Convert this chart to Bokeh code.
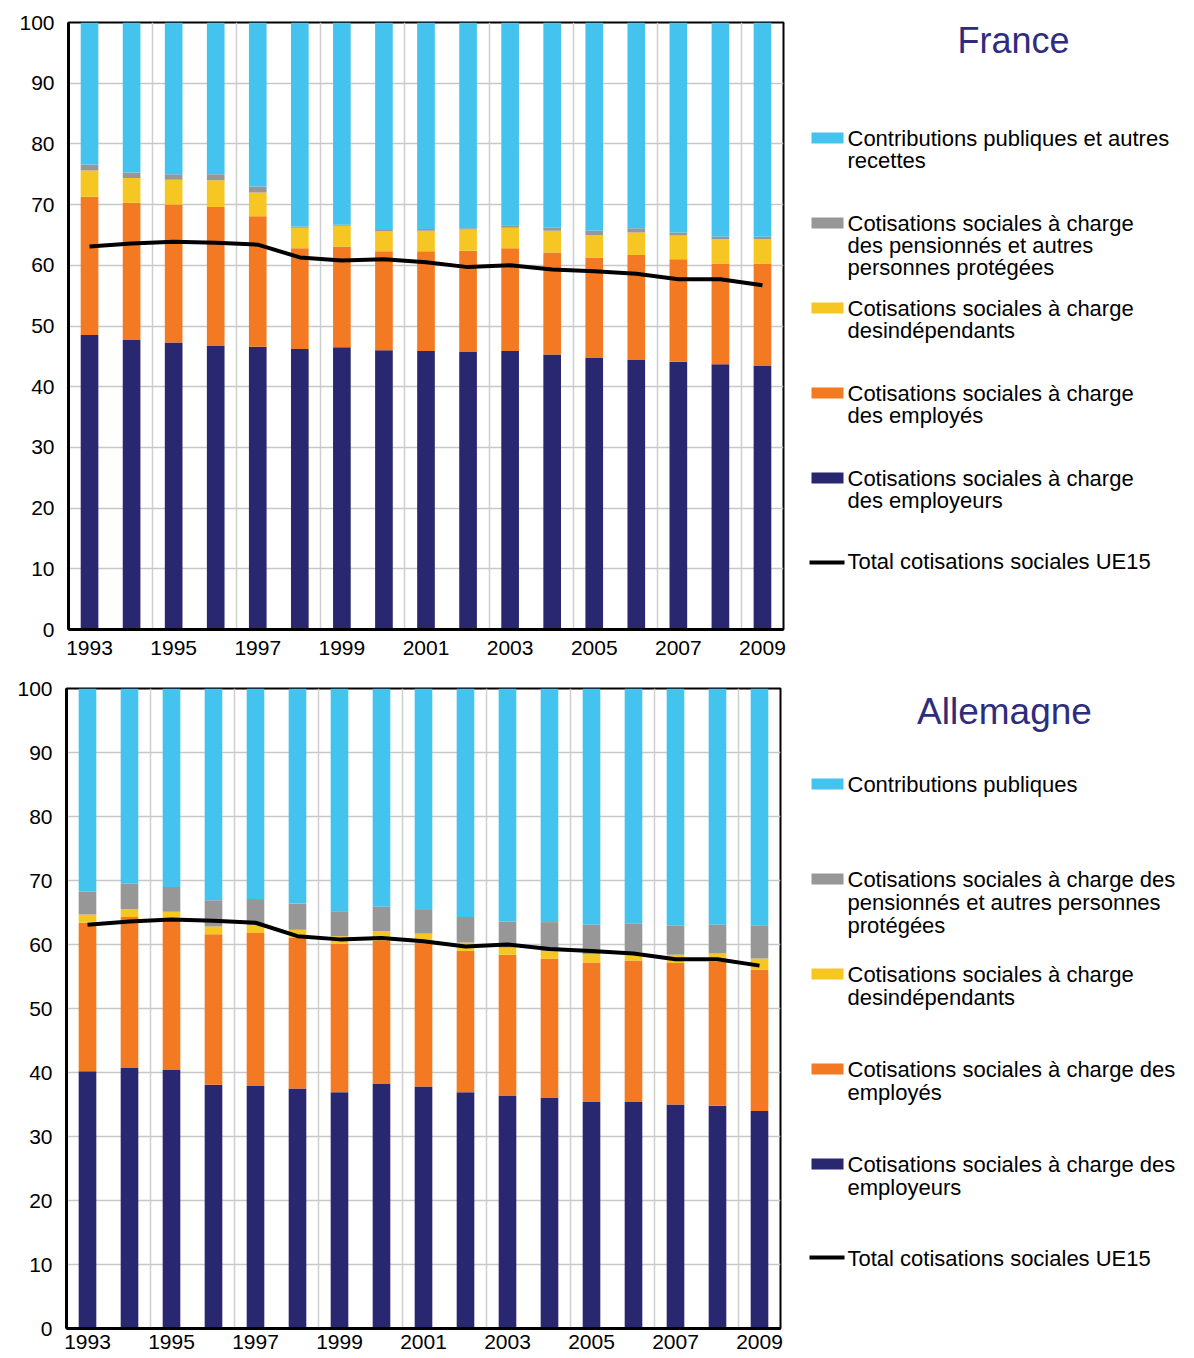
from bokeh.plotting import figure
from bokeh.layouts import column, row
from bokeh.models import ColumnDataSource, Range1d, FixedTicker
from bokeh.core.properties import value
from bokeh.embed import file_html
from bokeh.resources import INLINE

# ---------------- data ----------------
years = [1993, 1994, 1995, 1996, 1997, 1998, 1999, 2000, 2001,
         2002, 2003, 2004, 2005, 2006, 2007, 2008, 2009]
year_ticks = [1993, 1995, 1997, 1999, 2001, 2003, 2005, 2007, 2009]
year_grid = [1994.5, 1996.5, 1998.5, 2000.5, 2002.5, 2004.5, 2006.5, 2008.5]
y_ticks = [0, 10, 20, 30, 40, 50, 60, 70, 80, 90, 100]

# UE15 total social contributions (same line on both panels)
ue15_total = [63.1, 63.6, 63.9, 63.7, 63.4, 61.3, 60.8, 61.0, 60.5,
              59.7, 60.0, 59.3, 59.0, 58.6, 57.7, 57.7, 56.7]

# France
fr_employeurs = [48.5, 47.7, 47.3, 46.8, 46.6, 46.2, 46.5, 46.0, 45.9,
                 45.7, 45.9, 45.3, 44.8, 44.4, 44.1, 43.7, 43.5]
fr_employes = [22.8, 22.6, 22.7, 22.8, 21.5, 16.6, 16.6, 16.3, 16.4,
               16.7, 16.9, 16.8, 16.5, 17.3, 16.9, 16.6, 16.8]
fr_independants = [4.3, 4.1, 4.1, 4.4, 3.9, 3.4, 3.4, 3.3, 3.4,
                   3.5, 3.4, 3.6, 3.7, 3.7, 3.9, 4.0, 4.0]
fr_pensionnes = [1.0, 0.9, 0.9, 1.0, 1.0, 0.2, 0.2, 0.2, 0.3,
                 0.2, 0.4, 0.5, 0.7, 0.7, 0.5, 0.4, 0.4]
fr_publiques = [23.4, 24.7, 25.0, 25.0, 27.0, 33.6, 33.3, 34.2, 34.0,
                33.9, 33.4, 33.8, 34.3, 33.9, 34.6, 35.3, 35.3]

# Allemagne
de_employeurs = [40.2, 40.7, 40.4, 38.1, 37.9, 37.5, 36.9, 38.3, 37.8,
                 36.9, 36.4, 36.0, 35.4, 35.4, 35.0, 34.8, 34.0]
de_employes = [23.2, 23.6, 23.5, 23.5, 23.9, 23.6, 23.2, 22.3, 22.5,
               22.1, 22.0, 21.8, 21.8, 22.1, 22.1, 22.5, 22.1]
de_independants = [1.3, 1.2, 1.2, 1.2, 1.2, 1.2, 1.2, 1.5, 1.4,
                   1.3, 1.1, 1.2, 1.3, 1.3, 1.3, 1.3, 1.7]
de_pensionnes = [3.6, 4.0, 3.9, 4.1, 4.1, 4.1, 3.9, 3.8, 3.7,
                 4.0, 4.1, 4.5, 4.6, 4.5, 4.6, 4.5, 5.2]
de_publiques = [31.7, 30.5, 31.0, 33.1, 32.9, 33.6, 34.8, 34.1, 34.6,
                35.7, 36.4, 36.5, 36.9, 36.7, 37.0, 36.9, 37.0]

fr_legend_labels = [
    ["Contributions publiques et autres", "recettes"],
    ["Cotisations sociales à charge", "des pensionnés et autres", "personnes protégées"],
    ["Cotisations sociales à charge", "desindépendants"],
    ["Cotisations sociales à charge", "des employés"],
    ["Cotisations sociales à charge", "des employeurs"],
]
de_legend_labels = [
    ["Contributions publiques"],
    ["Cotisations sociales à charge des", "pensionnés et autres personnes", "protégées"],
    ["Cotisations sociales à charge", "desindépendants"],
    ["Cotisations sociales à charge des", "employés"],
    ["Cotisations sociales à charge des", "employeurs"],
]
line_label = "Total cotisations sociales UE15"

# ---------------- style ----------------
C_PUB = "#45C3EF"
C_PEN = "#979797"
C_IND = "#F6C723"
C_EMP = "#F37A22"
C_EMPR = "#28276F"
C_TITLE = "#2E2D7D"
stack_colors = [C_EMPR, C_EMP, C_IND, C_PEN, C_PUB]
legend_colors = [C_PUB, C_PEN, C_IND, C_EMP, C_EMPR]
FONT = "Liberation Sans"


def bar_panel(employeurs, employes, independants, pensionnes, publiques,
              width, height, bl, br, bt, bb, x_standoff):
    src = ColumnDataSource(dict(year=years, a=employeurs, b=employes,
                                c=independants, d=pensionnes, e=publiques))
    p = figure(width=width, height=height, output_backend="svg",
               toolbar_location=None, x_range=Range1d(1992.5, 2009.5),
               y_range=Range1d(0, 100), min_border_left=bl,
               min_border_right=br, min_border_top=bt, min_border_bottom=bb)
    p.vbar_stack(["a", "b", "c", "d", "e"], x="year", width=0.42,
                 color=stack_colors, line_color=None, source=src)
    p.line(years, ue15_total, line_width=4, color="black")
    p.xaxis.ticker = FixedTicker(ticks=year_ticks)
    p.yaxis.ticker = FixedTicker(ticks=y_ticks)
    p.xgrid.ticker = FixedTicker(ticks=year_grid)
    p.xgrid.grid_line_color = "#CFCFCF"
    p.xgrid.grid_line_width = 1.5
    p.ygrid.grid_line_color = "#C8C8C8"
    p.ygrid.grid_line_width = 1.5
    p.outline_line_color = "black"
    p.outline_line_width = 2
    for ax in (p.xaxis, p.yaxis):
        ax.axis_line_color = "black"
        ax.axis_line_width = 3
        ax.major_tick_line_color = None
        ax.minor_tick_line_color = None
        ax.major_tick_out = 0
        ax.major_tick_in = 0
        ax.major_label_text_font = FONT
        ax.major_label_text_font_size = "21px"
        ax.major_label_text_color = "black"
    p.yaxis.major_label_standoff = 14
    p.xaxis.major_label_standoff = x_standoff
    p.background_fill_color = "white"
    p.border_fill_color = "white"
    return p


def legend_panel(x0, x1, height, bt, bb, frame_top, frame_bot, title, tx, ty,
                 tsize, labels, swatch_tops, line_gap, line_y, line_text_y):
    f = figure(width=x1 - x0, height=height, output_backend="svg",
               toolbar_location=None, x_range=Range1d(x0, x1),
               y_range=Range1d(frame_bot, frame_top), x_axis_location=None,
               y_axis_location=None, min_border_left=0, min_border_right=0,
               min_border_top=bt, min_border_bottom=bb)
    f.grid.visible = False
    f.outline_line_color = None
    f.border_fill_color = "white"
    f.text(x=[tx], y=[ty], text=[title], text_font=value(FONT),
           text_font_size=tsize, text_color=C_TITLE, text_align="center",
           text_baseline="alphabetic")
    f.quad(left=[811] * len(swatch_tops), right=[843] * len(swatch_tops),
           top=swatch_tops, bottom=[t + 11 for t in swatch_tops],
           color=legend_colors, line_color=None)
    xs, ys, ts = [], [], []
    for lines, top in zip(labels, swatch_tops):
        for i, ln in enumerate(lines):
            xs.append(847)
            ys.append(top + 6 + i * line_gap)
            ts.append(ln)
    xs.append(847)
    ys.append(line_text_y)
    ts.append(line_label)
    f.text(x=xs, y=ys, text=ts, text_font=value(FONT),
           text_font_size="22px", text_color="black", text_align="left",
           text_baseline="alphabetic")
    f.line([809, 844], [line_y, line_y], line_width=4, color="black")
    return f


# France: page y 0..666, frame 22..629 ; Allemagne: page y 666..1357, frame 688..1328
fr = bar_panel(fr_employeurs, fr_employes, fr_independants, fr_pensionnes,
               fr_publiques, 793, 666, 68, 10, 22, 37, 11)
de = bar_panel(de_employeurs, de_employes, de_independants, de_pensionnes,
               de_publiques, 793, 691, 66, 13, 22, 29, 6)

fr_leg = legend_panel(793, 1193, 666, 22, 37, 22, 629, "France", 1013, 40,
                      "36px", fr_legend_labels, [132, 217, 302, 387, 472], 22,
                      562, 561)
de_leg = legend_panel(793, 1193, 691, 22, 29, 688, 1328, "Allemagne", 1004,
                      711, "37px", de_legend_labels,
                      [778, 873, 968, 1063, 1158], 23, 1257, 1258)

layout = column(row(fr, fr_leg, spacing=0), row(de, de_leg, spacing=0),
                spacing=0)

open("out.html", "w").write(file_html(layout, INLINE))
